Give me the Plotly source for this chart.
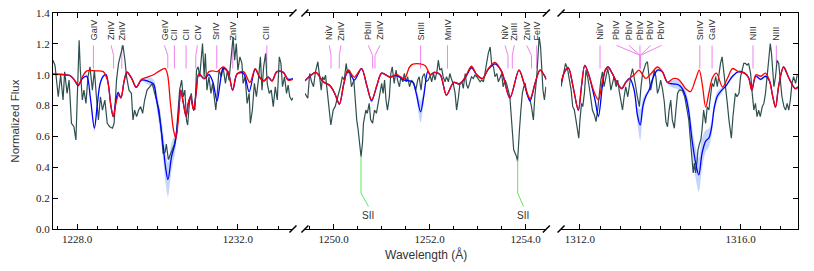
import plotly.graph_objects as go

# ---------------- observed spectrum (normalized flux) ----------------
obs1_wl = [1227.40, 1227.45, 1227.53, 1227.59, 1227.65, 1227.69, 1227.75, 1227.80, 1227.86, 1227.92,
           1227.97, 1228.00, 1228.05, 1228.08, 1228.13, 1228.17, 1228.22, 1228.27, 1228.32, 1228.38,
           1228.43, 1228.48, 1228.53, 1228.58, 1228.63, 1228.69, 1228.75, 1228.81, 1228.88, 1228.92,
           1228.98, 1229.03, 1229.09, 1229.14, 1229.19, 1229.23, 1229.29, 1229.35, 1229.39, 1229.43,
           1229.48, 1229.53, 1229.58, 1229.63, 1229.68, 1229.74, 1229.81, 1229.87, 1229.93, 1229.99,
           1230.04, 1230.10, 1230.14, 1230.19, 1230.22, 1230.27, 1230.32, 1230.37, 1230.42, 1230.47,
           1230.52, 1230.55, 1230.60, 1230.64, 1230.68, 1230.72, 1230.75, 1230.80, 1230.84, 1230.88,
           1230.93, 1230.97, 1231.01, 1231.05, 1231.12, 1231.16, 1231.19, 1231.23, 1231.28, 1231.33,
           1231.37, 1231.42, 1231.45, 1231.48, 1231.53, 1231.59, 1231.63, 1231.69, 1231.74, 1231.78,
           1231.84, 1231.88, 1231.92, 1231.96, 1232.00, 1232.05, 1232.10, 1232.13, 1232.18, 1232.23,
           1232.28, 1232.31, 1232.36, 1232.41, 1232.46, 1232.51, 1232.56, 1232.60, 1232.64, 1232.69,
           1232.73, 1232.78, 1232.83, 1232.88, 1232.93, 1232.98, 1233.03, 1233.07, 1233.11, 1233.16,
           1233.21, 1233.25, 1233.29, 1233.34, 1233.37]
obs1_fl = [1.094, 1.06, 0.857, 0.997, 0.836, 1.019, 0.879, 0.965, 0.685, 0.663,
           0.577, 0.857, 1.224, 1.030, 0.836, 0.900, 0.814, 0.987, 1.051, 0.900,
           1.030, 0.857, 0.707, 0.857, 0.771, 0.836, 0.685, 0.663, 0.653, 0.685,
           0.965, 1.073, 1.14, 1.191, 1.094, 0.987, 0.900, 0.879, 0.707, 0.771,
           0.728, 0.771, 0.793, 0.750, 0.836, 0.900, 0.922, 0.944, 0.879, 0.814,
           0.771, 0.62, 0.49, 0.50, 0.55, 0.45, 0.48, 0.52, 0.55, 0.62,
           0.80, 0.90, 0.965, 0.857, 0.900, 0.707, 0.674, 0.836, 0.879, 0.793,
           0.771, 1.030, 1.051, 0.987, 1.202, 0.987, 1.138, 0.900, 0.987, 0.879,
           0.944, 0.836, 0.771, 0.857, 1.030, 0.987, 1.051, 0.944, 1.030, 0.965,
           1.116, 1.245, 1.094, 1.202, 1.030, 1.116, 1.073, 0.944, 0.987, 0.814,
           0.879, 0.685, 0.771, 0.944, 0.857, 0.965, 1.116, 0.900, 1.051, 1.138,
           0.944, 0.879, 0.900, 0.793, 0.922, 0.836, 1.116, 1.073, 0.922, 0.987,
           0.879, 0.933, 0.857, 0.836, 0.85]

obs2_wl = [1249.40, 1249.46, 1249.50, 1249.54, 1249.58, 1249.62, 1249.67, 1249.70, 1249.74, 1249.77,
           1249.80, 1249.83, 1249.87, 1249.90, 1249.94, 1249.99, 1250.03, 1250.07, 1250.11, 1250.14,
           1250.18, 1250.22, 1250.26, 1250.29, 1250.33, 1250.37, 1250.42, 1250.44, 1250.48, 1250.51,
           1250.55, 1250.57, 1250.60, 1250.62, 1250.67, 1250.70, 1250.74, 1250.77, 1250.81, 1250.85,
           1250.89, 1250.93, 1250.96, 1251.00, 1251.03, 1251.06, 1251.09, 1251.12, 1251.16, 1251.19,
           1251.22, 1251.26, 1251.30, 1251.33, 1251.37, 1251.40, 1251.44, 1251.47, 1251.51, 1251.54,
           1251.58, 1251.62, 1251.67, 1251.71, 1251.75, 1251.78, 1251.82, 1251.85, 1251.89, 1251.92,
           1251.97, 1252.01, 1252.04, 1252.08, 1252.11, 1252.15, 1252.18, 1252.21, 1252.25, 1252.28,
           1252.32, 1252.35, 1252.39, 1252.42, 1252.46, 1252.49, 1252.53, 1252.56, 1252.60, 1252.63,
           1252.67, 1252.70, 1252.74, 1252.77, 1252.80, 1252.84, 1252.87, 1252.91, 1252.94, 1252.98,
           1253.01, 1253.05, 1253.08, 1253.12, 1253.15, 1253.19, 1253.22, 1253.26, 1253.29, 1253.33,
           1253.36, 1253.40, 1253.43, 1253.46, 1253.50, 1253.53, 1253.57, 1253.60, 1253.64, 1253.67,
           1253.69, 1253.72, 1253.75, 1253.78, 1253.81, 1253.83, 1253.85, 1253.87, 1253.90, 1253.93,
           1253.96, 1253.99, 1254.02, 1254.06, 1254.09, 1254.12, 1254.16, 1254.19, 1254.23, 1254.26,
           1254.28, 1254.31, 1254.33, 1254.36, 1254.39, 1254.42]
obs2_fl = [0.879, 0.847, 1.008, 0.954, 0.922, 1.019, 1.084, 0.987, 0.900, 0.987,
           0.965, 0.997, 0.857, 0.793, 0.674, 0.771, 0.793, 0.836, 0.879, 0.922,
           0.987, 0.965, 1.073, 1.008, 1.030, 0.922, 0.965, 0.857, 0.707, 0.642,
           0.513, 0.469, 0.556, 0.685, 0.771, 0.750, 0.814, 0.707, 0.685, 0.771,
           0.750, 0.814, 0.857, 0.944, 0.879, 0.965, 0.836, 0.771, 0.857, 1.008,
           1.051, 0.944, 1.030, 0.965, 0.922, 0.987, 0.954, 1.008, 0.954, 0.987,
           0.922, 0.965, 0.944, 0.900, 0.965, 0.987, 0.900, 0.987, 1.008, 0.954,
           0.965, 0.997, 0.954, 1.008, 0.965, 1.019, 1.094, 1.030, 1.040, 0.987,
           0.954, 0.987, 0.954, 1.008, 0.965, 0.944, 0.879, 0.771, 0.857, 0.944,
           0.954, 0.911, 1.008, 0.933, 0.911, 0.954, 0.987, 0.976, 0.997, 0.987,
           0.976, 0.954, 0.965, 0.954, 1.008, 1.094, 1.138, 1.180, 1.073, 1.051,
           0.987, 1.008, 0.954, 0.976, 1.008, 0.922, 0.965, 0.944, 0.900, 0.857,
           0.771, 0.642, 0.513, 0.491, 0.469, 0.438, 0.513, 0.642, 0.771, 0.879,
           0.922, 0.944, 0.879, 0.857, 0.836, 0.793, 0.707, 0.857, 0.987, 1.138,
           1.245, 1.180, 1.030, 0.900, 0.836, 0.922]

obs3_wl = [1311.53, 1311.59, 1311.64, 1311.69, 1311.73, 1311.78, 1311.82, 1311.86, 1311.90, 1311.94,
           1311.97, 1312.00, 1312.04, 1312.07, 1312.11, 1312.15, 1312.19, 1312.23, 1312.27, 1312.31,
           1312.36, 1312.40, 1312.44, 1312.48, 1312.52, 1312.56, 1312.60, 1312.65, 1312.69, 1312.73,
           1312.77, 1312.81, 1312.85, 1312.90, 1312.94, 1312.98, 1313.02, 1313.06, 1313.10, 1313.14,
           1313.19, 1313.23, 1313.27, 1313.31, 1313.35, 1313.39, 1313.43, 1313.48, 1313.52, 1313.56,
           1313.60, 1313.64, 1313.68, 1313.72, 1313.76, 1313.81, 1313.85, 1313.89, 1313.93, 1313.97,
           1314.01, 1314.06, 1314.10, 1314.14, 1314.18, 1314.22, 1314.26, 1314.30, 1314.35, 1314.39,
           1314.43, 1314.47,
           1314.55, 1314.61, 1314.67, 1314.71, 1314.75, 1314.79, 1314.82, 1314.85, 1314.88, 1314.91,
           1314.94, 1314.98, 1315.01, 1315.04, 1315.08, 1315.13, 1315.17, 1315.21, 1315.25, 1315.29,
           1315.33, 1315.38, 1315.42, 1315.46, 1315.50, 1315.54, 1315.58, 1315.62, 1315.67, 1315.71,
           1315.75, 1315.77, 1315.81, 1315.84, 1315.87, 1315.91, 1315.96, 1316.00, 1316.04, 1316.08,
           1316.12, 1316.16, 1316.20, 1316.25, 1316.29, 1316.33, 1316.37, 1316.41, 1316.45, 1316.49,
           1316.54, 1316.58, 1316.62, 1316.66, 1316.70, 1316.74, 1316.77, 1316.80, 1316.83, 1316.87,
           1316.91, 1316.95, 1316.99, 1317.03, 1317.08, 1317.12, 1317.16, 1317.20, 1317.24, 1317.28,
           1317.32, 1317.37, 1317.41]
obs3_fl = [0.922, 1.019, 1.073, 1.040, 0.987, 0.900, 0.793, 0.771, 0.707, 0.621,
           0.588, 0.707, 0.814, 0.793, 0.879, 1.030, 0.987, 0.922, 0.857, 0.771,
           0.739, 0.696, 0.771, 0.879, 0.965, 1.019, 0.922, 0.987, 1.040, 0.987,
           0.900, 0.944, 0.987, 0.922, 0.965, 0.890, 0.836, 0.771, 0.857, 0.922,
           0.857, 0.944, 0.997, 1.040, 0.965, 0.922, 0.857, 0.793, 0.922, 1.008,
           1.040, 1.073, 1.084, 0.987, 0.900, 0.965, 1.030, 0.987, 0.879, 0.911,
           0.965, 0.900, 0.825, 0.696, 0.663, 0.771, 0.836, 0.707, 0.653, 0.771,
           0.879, 0.900,
           0.900, 0.857, 0.771, 0.707, 0.577, 0.469, 0.363, 0.427, 0.363, 0.427,
           0.513, 0.556, 0.577, 0.642, 0.771, 0.685, 0.793, 0.771, 0.879, 0.944,
           0.922, 0.987, 0.922, 1.019, 1.073, 1.116, 1.030, 0.922, 0.814, 0.707,
           0.642, 0.588, 0.728, 0.836, 0.879, 0.857, 0.879, 0.987, 1.030, 1.073,
           1.073, 1.062, 1.073, 1.008, 0.879, 0.771, 0.814, 0.728, 0.771, 0.728,
           0.793, 0.814, 0.879, 0.987, 1.116, 1.202, 1.138, 1.030, 0.922, 0.987,
           1.094, 1.073, 0.944, 0.857, 0.793, 0.771, 0.814, 0.771, 0.836, 0.944,
           0.987, 0.944, 0.997]

# ---------------- red model (line list model) ----------------
red1_wl = [1227.40, 1227.60, 1227.82, 1227.92, 1228.03, 1228.13, 1228.24, 1228.45, 1228.65, 1228.76,
           1228.84, 1228.90, 1228.97, 1229.03, 1229.09, 1229.17, 1229.24, 1229.36, 1229.47, 1229.60,
           1229.75, 1229.90, 1230.05, 1230.19, 1230.25, 1230.32, 1230.40, 1230.46, 1230.52, 1230.58,
           1230.64, 1230.71, 1230.77, 1230.82, 1230.90, 1230.96, 1231.03, 1231.16, 1231.28, 1231.38,
           1231.48, 1231.63, 1231.75, 1231.87, 1231.98, 1232.14, 1232.30, 1232.43, 1232.55, 1232.65,
           1232.75, 1232.85, 1232.97, 1233.13, 1233.25, 1233.37]
red1_fl = [1.004, 1.002, 0.995, 0.97, 0.935, 0.985, 1.025, 1.025, 1.02, 0.96,
           0.80, 0.728, 0.82, 0.868, 0.85, 0.96, 1.019, 0.975, 0.918, 0.97,
           0.985, 1.0, 1.025, 1.04, 1.00, 0.82, 0.64, 0.588, 0.72, 0.90,
           0.82, 0.73, 0.82, 0.857, 0.77, 0.88, 1.005, 0.975, 1.02, 1.025,
           1.02, 1.05, 1.02, 0.90, 1.005, 1.02, 0.95, 1.04, 0.98, 0.96,
           0.985, 0.96, 1.02, 1.015, 0.965, 0.97]

red2_wl = [1249.40, 1249.50, 1249.63, 1249.78, 1249.92, 1250.02, 1250.12, 1250.21, 1250.30, 1250.43,
           1250.58, 1250.69, 1250.79, 1250.90, 1251.00, 1251.17, 1251.31, 1251.47, 1251.58, 1251.65,
           1251.80, 1251.90, 1251.96, 1252.01, 1252.10, 1252.22, 1252.35, 1252.50, 1252.62, 1252.75,
           1252.87, 1252.98, 1253.10, 1253.22, 1253.36, 1253.50, 1253.67, 1253.86, 1253.97, 1254.09,
           1254.20, 1254.30, 1254.43]
red2_fl = [0.96, 0.99, 1.015, 0.955, 0.93, 0.88, 0.81, 0.94, 1.03, 0.985,
           1.04, 0.93, 0.836, 0.93, 1.01, 0.985, 1.0, 0.975, 1.05, 1.068,
           1.07, 1.06, 1.03, 1.0, 1.015, 1.0, 0.868, 0.95, 0.94, 0.99,
           1.055, 1.0, 0.975, 1.04, 1.08, 1.02, 0.85, 1.03, 0.94, 0.845,
           0.95, 1.03, 0.97]

red3_wl = [1311.53, 1311.62, 1311.71, 1311.83, 1311.96, 1312.04, 1312.12, 1312.22, 1312.30, 1312.38,
           1312.46, 1312.56, 1312.63, 1312.70, 1312.80, 1312.92, 1313.04, 1313.14, 1313.24, 1313.35,
           1313.47, 1313.56, 1313.64, 1313.78, 1313.93, 1314.05, 1314.18, 1314.32, 1314.45, 1314.55,
           1314.63, 1314.75, 1314.88, 1314.97, 1315.05, 1315.13, 1315.21, 1315.30, 1315.40, 1315.55,
           1315.68, 1315.80, 1315.95, 1316.10, 1316.20, 1316.28, 1316.38, 1316.50, 1316.62, 1316.72,
           1316.80, 1316.87, 1316.95, 1317.07, 1317.20, 1317.36, 1317.43]
red3_fl = [0.945, 1.02, 1.045, 0.92, 0.77, 0.93, 1.06, 1.0, 0.93, 0.87,
           0.836, 0.96, 1.03, 1.05, 1.01, 0.95, 0.91, 0.95, 0.976, 1.0,
           1.03, 1.0, 0.976, 1.01, 1.05, 1.02, 0.95, 0.975, 0.97, 0.94,
           0.91, 0.89, 0.97, 1.03, 0.93, 0.79, 0.88, 0.98, 1.01, 0.92,
           0.98, 1.04, 1.02, 1.01, 0.98, 0.90, 1.00, 0.99, 1.01, 0.96,
           0.86, 0.79, 0.93, 1.05, 0.98, 0.91, 0.92]

# ---------------- blue model (best fit) with uncertainty ----------------
blue1_wl = [1227.40, 1227.60, 1227.82, 1227.92, 1228.03, 1228.13, 1228.24, 1228.33, 1228.43, 1228.50,
            1228.57, 1228.65, 1228.72, 1228.78, 1228.84, 1228.90, 1228.97, 1229.02, 1229.09, 1229.17,
            1229.24, 1229.36, 1229.47, 1229.60, 1229.75, 1229.90, 1229.97, 1230.06, 1230.14, 1230.20,
            1230.26, 1230.35, 1230.44, 1230.52, 1230.58, 1230.64, 1230.71, 1230.77, 1230.82, 1230.90,
            1230.96, 1231.03, 1231.16, 1231.28, 1231.38, 1231.48, 1231.56, 1231.63, 1231.75, 1231.87,
            1231.98, 1232.14, 1232.28, 1232.43, 1232.55, 1232.65, 1232.75, 1232.85, 1232.97, 1233.13,
            1233.25, 1233.37]
blue1_fl = [1.004, 1.002, 0.995, 0.97, 0.93, 0.975, 0.99, 0.85, 0.653, 0.80,
            0.94, 0.99, 1.0, 0.93, 0.80, 0.728, 0.84, 0.885, 0.85, 0.96,
            1.015, 0.975, 0.918, 0.965, 0.96, 0.94, 0.85, 0.707, 0.54, 0.40,
            0.32, 0.47, 0.56, 0.74, 0.90, 0.82, 0.73, 0.82, 0.857, 0.77,
            0.88, 1.005, 0.975, 1.00, 0.95, 0.83, 0.95, 1.04, 1.02, 0.90,
            1.005, 1.01, 0.89, 1.035, 0.98, 0.96, 0.985, 0.96, 1.02, 1.015,
            0.97, 0.975]
blue1_err = [0.008, 0.008, 0.008, 0.008, 0.008, 0.008, 0.008, 0.008, 0.02, 0.008,
             0.008, 0.008, 0.008, 0.008, 0.008, 0.008, 0.008, 0.008, 0.008, 0.008,
             0.008, 0.008, 0.008, 0.008, 0.02, 0.03, 0.05, 0.07, 0.09, 0.10,
             0.11, 0.09, 0.06, 0.03, 0.008, 0.008, 0.008, 0.008, 0.008, 0.008,
             0.008, 0.008, 0.008, 0.008, 0.008, 0.008, 0.008, 0.008, 0.008, 0.008,
             0.008, 0.008, 0.008, 0.008, 0.008, 0.008, 0.008, 0.008, 0.008, 0.008,
             0.008, 0.008]

blue2_wl = [1249.40, 1249.50, 1249.63, 1249.78, 1249.92, 1250.02, 1250.12, 1250.21, 1250.30, 1250.43,
            1250.58, 1250.69, 1250.79, 1250.90, 1251.00, 1251.17, 1251.31, 1251.47, 1251.58, 1251.65,
            1251.72, 1251.81, 1251.88, 1251.96, 1252.01, 1252.10, 1252.22, 1252.35, 1252.50, 1252.62,
            1252.75, 1252.87, 1252.98, 1253.10, 1253.22, 1253.36, 1253.50, 1253.67, 1253.86, 1253.97,
            1254.09, 1254.20, 1254.30, 1254.43]
blue2_fl = [0.96, 0.99, 1.015, 0.955, 0.93, 0.88, 0.81, 0.94, 1.03, 0.965,
            1.04, 0.93, 0.83, 0.93, 1.01, 0.985, 0.995, 0.965, 0.96, 0.95,
            0.88, 0.76, 0.87, 1.02, 1.0, 1.015, 1.0, 0.868, 0.95, 0.94,
            0.985, 1.045, 1.0, 0.975, 1.035, 1.07, 1.02, 0.85, 1.03, 0.94,
            0.83, 0.95, 1.03, 0.97]
blue2_err = [0.008, 0.008, 0.008, 0.008, 0.008, 0.008, 0.008, 0.008, 0.008, 0.008,
             0.008, 0.008, 0.015, 0.008, 0.008, 0.008, 0.008, 0.008, 0.008, 0.008,
             0.03, 0.07, 0.04, 0.008, 0.008, 0.008, 0.008, 0.008, 0.008, 0.008,
             0.008, 0.008, 0.008, 0.008, 0.008, 0.008, 0.008, 0.008, 0.008, 0.008,
             0.008, 0.008, 0.008, 0.008]

blue3_wl = [1311.53, 1311.62, 1311.71, 1311.83, 1311.96, 1312.04, 1312.12, 1312.22, 1312.30, 1312.38,
            1312.46, 1312.56, 1312.63, 1312.70, 1312.80, 1312.92, 1313.04, 1313.14, 1313.24, 1313.35,
            1313.43, 1313.50, 1313.57, 1313.64, 1313.72, 1313.82, 1313.93, 1314.05, 1314.18, 1314.32,
            1314.45, 1314.55, 1314.63, 1314.71, 1314.79, 1314.88, 1314.96, 1315.04, 1315.13, 1315.21,
            1315.28, 1315.34, 1315.42, 1315.50, 1315.65, 1315.80, 1315.95, 1316.10, 1316.20, 1316.28,
            1316.38, 1316.50, 1316.62, 1316.72, 1316.80, 1316.87, 1316.95, 1317.07, 1317.20, 1317.36,
            1317.43]
blue3_fl = [0.945, 1.02, 1.045, 0.92, 0.77, 0.93, 1.06, 1.0, 0.92, 0.83,
            0.73, 0.93, 1.03, 1.05, 1.01, 0.95, 0.91, 0.95, 0.976, 0.90,
            0.74, 0.674, 0.80, 0.86, 0.90, 0.98, 1.03, 1.02, 0.95, 0.94,
            0.935, 0.91, 0.86, 0.76, 0.58, 0.43, 0.351, 0.49, 0.57, 0.59,
            0.66, 0.78, 0.86, 0.89, 0.933, 0.99, 1.02, 1.01, 0.98, 0.90,
            0.99, 0.97, 0.99, 0.96, 0.86, 0.79, 0.93, 1.05, 0.98, 0.91,
            0.92]
blue3_err = [0.008, 0.008, 0.008, 0.008, 0.008, 0.008, 0.008, 0.008, 0.008, 0.008,
             0.015, 0.008, 0.008, 0.008, 0.008, 0.008, 0.008, 0.008, 0.008, 0.02,
             0.05, 0.10, 0.05, 0.02, 0.01, 0.01, 0.01, 0.01, 0.01, 0.025,
             0.03, 0.03, 0.04, 0.06, 0.08, 0.10, 0.11, 0.10, 0.07, 0.06,
             0.05, 0.04, 0.03, 0.02, 0.008, 0.008, 0.008, 0.008, 0.008, 0.008,
             0.008, 0.008, 0.008, 0.008, 0.008, 0.008, 0.008, 0.008, 0.008, 0.008,
             0.008]

# ---------------- line identifications ----------------
ids1_name = ["GaIV", "ZnIV", "ZnIV", "GeIV", "CII", "CII", "CIV", "SrIV", "ZnIV", "CIII"]
ids1_label_wl = [1228.405, 1228.846, 1229.112, 1230.172, 1230.420, 1230.711, 1230.993, 1231.475, 1231.873, 1232.719]
ids1_line_wl = [1228.405, 1228.908, 1229.112, 1230.256, 1230.420, 1230.711, 1230.953, 1231.475, 1231.873, 1232.719]

ids2_name = ["NiV", "ZnIV", "PbIII", "ZnIV", "SnIII", "MnIV", "NiV", "ZnIII", "ZnIV", "FeIV"]
ids2_label_wl = [1249.908, 1250.152, 1250.721, 1250.965, 1251.810, 1252.370, 1253.569, 1253.763, 1254.021, 1254.229]
ids2_line_wl = [1249.944, 1250.117, 1250.812, 1250.860, 1251.810, 1252.370, 1253.631, 1253.721, 1254.121, 1254.229]

ids3_name = ["NiIV", "PbIV", "PbIV", "PbIV", "PbIV", "PbIV", "SnIV", "GaIV", "NIII", "NIII"]
ids3_label_wl = [1312.500, 1312.913, 1313.219, 1313.493, 1313.759, 1314.032, 1314.985, 1315.290, 1316.310, 1316.890]
ids3_line_wl = [1312.500, 1313.500, 1313.500, 1313.500, 1313.500, 1313.500, 1314.985, 1315.290, 1316.310, 1316.890]

# interstellar S II lines (panel 2)
sii_line_wl = [1250.569, 1253.833]
sii_line_depth = [0.47, 0.45]
sii_label_wl = [1250.725, 1253.954]

# axis ranges / ticks
ranges = [[1227.40, 1233.37], [1249.40, 1254.43], [1311.53, 1317.43]]
major_step = [4, 2, 4]
major_start = [1228, 1250, 1312]

for a, b in [(obs1_wl, obs1_fl), (obs2_wl, obs2_fl), (obs3_wl, obs3_fl),
             (red1_wl, red1_fl), (red2_wl, red2_fl), (red3_wl, red3_fl),
             (blue1_wl, blue1_fl), (blue2_wl, blue2_fl), (blue3_wl, blue3_fl),
             (blue1_wl, blue1_err), (blue2_wl, blue2_err), (blue3_wl, blue3_err)]:
    assert len(a) == len(b), (len(a), len(b))

# ---------------- style ----------------
C_OBS = "#2f4f4f"
C_BLUE = "#0000ff"
C_RED = "#ff0000"
C_BAND = "rgba(100,149,237,0.38)"
C_ID = "#ee82ee"
C_SII = "#5ce65c"
TXT = "#333333"
SANS = "Liberation Sans, Arial, sans-serif"
SERIF = "Liberation Serif, Times New Roman, serif"
Y_TOP, Y_KINK, Y_BOT, Y_TEXT = 1.19, 1.125, 1.04, 1.21

domains = [[0.0, 0.3221], [0.3381, 0.6622], [0.6820, 1.0]]
xnames = ["x", "x2", "x3"]

obs = [(obs1_wl, obs1_fl), (obs2_wl, obs2_fl), (obs3_wl, obs3_fl)]
reds = [(red1_wl, red1_fl), (red2_wl, red2_fl), (red3_wl, red3_fl)]
blues = [(blue1_wl, blue1_fl, blue1_err), (blue2_wl, blue2_fl, blue2_err), (blue3_wl, blue3_fl, blue3_err)]
ids = [(ids1_name, ids1_label_wl, ids1_line_wl), (ids2_name, ids2_label_wl, ids2_line_wl),
       (ids3_name, ids3_label_wl, ids3_line_wl)]

fig = go.Figure()
annotations = []

for i in range(3):
    xa = xnames[i]
    lx, ly = [], []
    for name, lw, bw in zip(*ids[i]):
        lx += [lw, bw, bw, None]
        ly += [Y_TOP, Y_KINK, Y_BOT, None]
        annotations.append(dict(x=lw, y=Y_TEXT, xref=xa, yref="y", text=name, textangle=-90,
                                xanchor="center", yanchor="bottom", showarrow=False,
                                font=dict(family=SANS, size=9, color=TXT)))
    fig.add_trace(go.Scatter(x=lx, y=ly, xaxis=xa, yaxis="y", mode="lines",
                             line=dict(color=C_ID, width=1), hoverinfo="skip"))
    bw_, bf, be = blues[i]
    lo = [f - e for f, e in zip(bf, be)]
    hi = [f + e for f, e in zip(bf, be)]
    fig.add_trace(go.Scatter(x=bw_, y=lo, xaxis=xa, yaxis="y", mode="lines",
                             line=dict(width=0, shape="spline", smoothing=0.9), hoverinfo="skip"))
    fig.add_trace(go.Scatter(x=bw_, y=hi, xaxis=xa, yaxis="y", mode="lines", fill="tonexty",
                             fillcolor=C_BAND, line=dict(width=0, shape="spline", smoothing=0.9),
                             hoverinfo="skip"))
    fig.add_trace(go.Scatter(x=obs[i][0], y=obs[i][1], xaxis=xa, yaxis="y", mode="lines",
                             line=dict(color=C_OBS, width=1.2)))
    fig.add_trace(go.Scatter(x=bw_, y=bf, xaxis=xa, yaxis="y", mode="lines",
                             line=dict(color=C_BLUE, width=1.3, shape="spline", smoothing=0.9)))
    fig.add_trace(go.Scatter(x=reds[i][0], y=reds[i][1], xaxis=xa, yaxis="y", mode="lines",
                             line=dict(color=C_RED, width=1.3, shape="spline", smoothing=0.9)))

sx, sy = [], []
for lw, d, tw in zip(sii_line_wl, sii_line_depth, sii_label_wl):
    sx += [lw, lw, tw, None]
    sy += [d, 0.233, 0.146, None]
    annotations.append(dict(x=tw, y=0.086, xref="x2", yref="y", text="SII", showarrow=False,
                            xanchor="center", yanchor="middle",
                            font=dict(family=SANS, size=10, color=TXT)))
fig.add_trace(go.Scatter(x=sx, y=sy, xaxis="x2", yaxis="y", mode="lines",
                         line=dict(color=C_SII, width=1), hoverinfo="skip"))

fig.add_trace(go.Scatter(x=[ranges[2][0]], y=[0], xaxis="x3", yaxis="y2", mode="markers",
                         marker=dict(opacity=0), hoverinfo="skip"))

axis_common = dict(showline=True, linecolor="black", linewidth=1, mirror="ticks", ticks="inside",
                   ticklen=5, tickcolor="black", showgrid=False, zeroline=False, automargin=False,
                   tickfont=dict(family=SERIF, size=11, color="#222"), tickformat=".1f",
                   ticklabeloverflow="allow")
layout_axes = {}
for i in range(3):
    key = "xaxis" if i == 0 else "xaxis%d" % (i + 1)
    layout_axes[key] = dict(axis_common, domain=domains[i], range=ranges[i], anchor="y",
                            tickmode="linear", tick0=major_start[i], dtick=major_step[i],
                            minor=dict(dtick=0.5, tick0=major_start[i], ticks="inside", ticklen=3,
                                       tickcolor="black", showgrid=False))

y_common = dict(showline=True, linecolor="black", linewidth=1, ticks="inside", ticklen=5,
                tickcolor="black", showgrid=False, zeroline=False, range=[0, 1.4], automargin=False,
                tickmode="linear", tick0=0, dtick=0.2, tickformat=".1f",
                tickfont=dict(family=SERIF, size=11, color="#222"), ticklabeloverflow="allow")
layout_axes["yaxis"] = dict(y_common, anchor="x", domain=[0, 1])
layout_axes["yaxis2"] = dict(y_common, anchor="x3", overlaying="y", side="right", showticklabels=False)

shapes = []
dx, dy = 3.5 / 745, 3.5 / 216
for xb in [domains[0][1], domains[1][0], domains[1][1], domains[2][0]]:
    for yb in [0, 1]:
        shapes.append(dict(type="line", xref="paper", yref="paper", x0=xb - dx, y0=yb - dy,
                           x1=xb + dx, y1=yb + dy, line=dict(color="black", width=1.5)))

annotations.append(dict(x=0.5, y=-0.119, xref="paper", yref="paper", text="Wavelength (Å)",
                        showarrow=False, xanchor="center", yanchor="middle",
                        font=dict(family=SANS, size=12, color=TXT)))
annotations.append(dict(x=-0.0515, y=0.5, xref="paper", yref="paper", text="Normalized Flux",
                        showarrow=False, textangle=-90, xanchor="center", yanchor="middle",
                        font=dict(family=SANS, size=11.5, color=TXT)))

# page body has an 8px default margin: figure is sized/margined to land the axes where the reference has them
fig.update_layout(width=806, height=263, margin=dict(l=45, r=16, t=5, b=42, pad=0, autoexpand=False),
                  plot_bgcolor="white", paper_bgcolor="white", showlegend=False,
                  annotations=annotations, shapes=shapes, **layout_axes)

fig.write_html("out.html")
